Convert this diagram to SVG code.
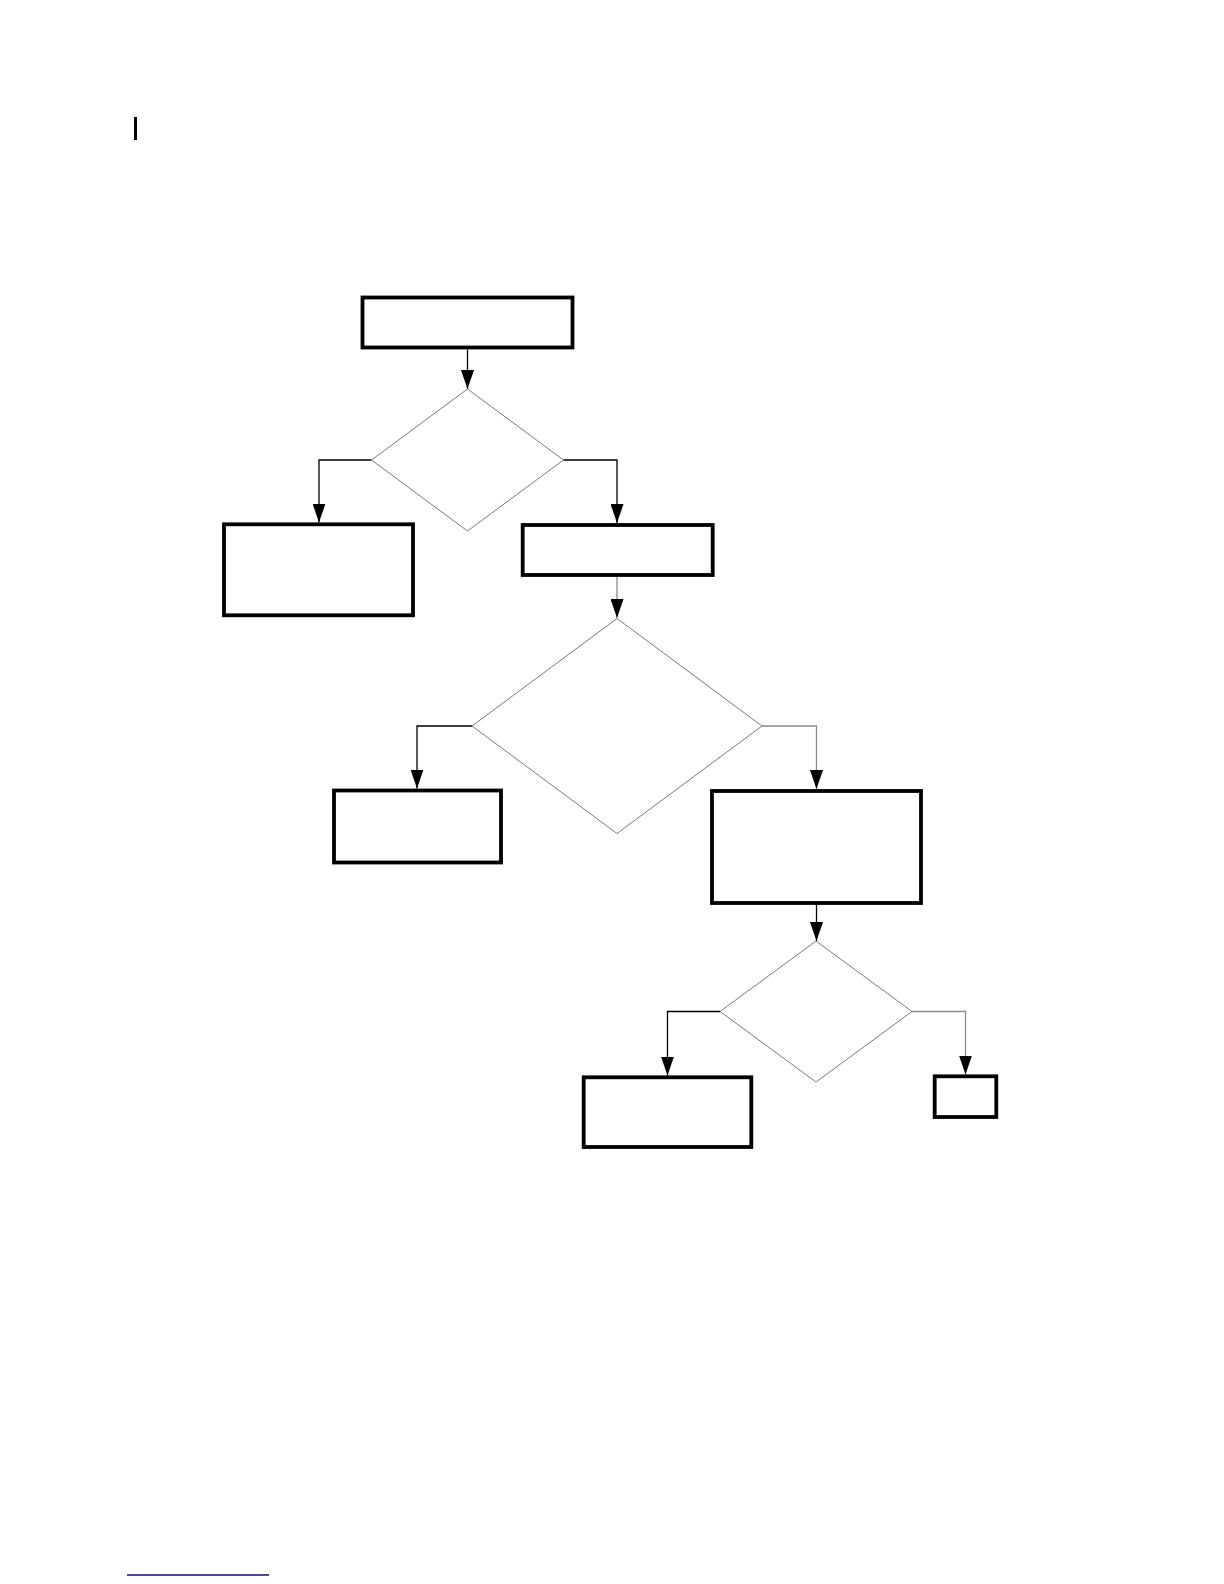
<svg xmlns="http://www.w3.org/2000/svg" width="1224" height="1584" viewBox="0 0 1224 1584">
  <style>
    .box { fill: #ffffff; stroke: #000000; stroke-width: 3.8; }
    .dec { fill: #ffffff; stroke: #7a7a7a; stroke-width: 1; }
    .conn { fill: none; stroke: #000000; stroke-width: 1.3; marker-end: url(#arrow); }
    .conn.gray { stroke: #8a8a8a; }
  </style>
  <defs>
    <marker id="arrow" markerUnits="userSpaceOnUse" markerWidth="19" markerHeight="13" refX="19" refY="6.5" orient="auto">
      <path d="M0,0 L19,6.5 L0,13 z" fill="#000000"/>
    </marker>
  </defs>
  <rect width="1224" height="1584" fill="#ffffff"/>

  <rect id="mark" x="134" y="117" width="3" height="23" fill="#000000"/>

  <g id="connectors">
    <path class="conn" d="M467.5,349.5 V389"/>
    <path class="conn" d="M371.5,460 H319 V522.5"/>
    <path class="conn" d="M563.5,460 H617 V523"/>
    <path class="conn gray" d="M617,577 V618"/>
    <path class="conn" d="M472,726 H417 V788.5"/>
    <path class="conn gray" d="M762,726 H816.5 V789"/>
    <path class="conn" d="M816.5,905 V941"/>
    <path class="conn" d="M720,1011.5 H667.5 V1075.5"/>
    <path class="conn gray" d="M912,1011.5 H965.5 V1074.5"/>
  </g>

  <g id="n1"><rect class="box" x="362.5" y="297.5" width="210" height="50"/></g>
  <g id="d1"><polygon class="dec" points="467.5,389 563.5,460 467.5,531 371.5,460"/></g>
  <g id="n2"><rect class="box" x="224" y="524.3" width="189" height="91"/></g>
  <g id="n3"><rect class="box" x="522.7" y="525" width="190" height="50"/></g>
  <g id="d2"><polygon class="dec" points="617,618.5 762,726 617,833.5 472,726"/></g>
  <g id="n4"><rect class="box" x="334" y="790.5" width="167" height="72"/></g>
  <g id="n5"><rect class="box" x="712" y="791" width="209" height="112"/></g>
  <g id="d3"><polygon class="dec" points="816,941 912,1011.5 816,1082 720,1011.5"/></g>
  <g id="n6"><rect class="box" x="583.7" y="1077.3" width="167.6" height="69.7"/></g>
  <g id="n7"><rect class="box" x="934.7" y="1076.3" width="61.6" height="40.7"/></g>

  <line id="footer-rule" x1="127" y1="1575" x2="269" y2="1575" stroke="#0a0a80" stroke-width="1.6"/>
</svg>
